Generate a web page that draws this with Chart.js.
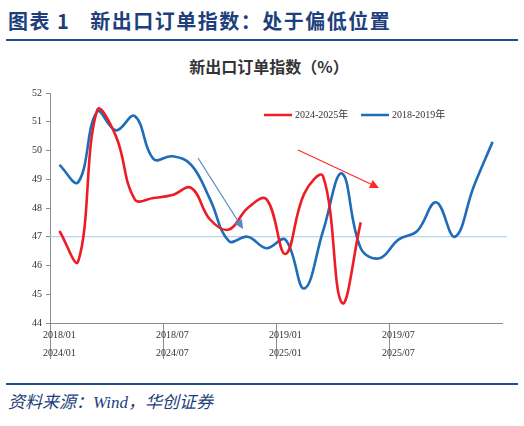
<!DOCTYPE html>
<html>
<head>
<meta charset="utf-8">
<script src="https://cdn.jsdelivr.net/npm/chart.js@4.4.1/dist/chart.umd.min.js"></script>
<style>
  body { margin: 0; width: 524px; height: 426px; background: #fff; position: relative; overflow: hidden; }
  #head { position: absolute; left: 8px; top: 6px; font: bold 20px "Noto Sans CJK SC", sans-serif; color: #1d3f7c; letter-spacing: 1.5px; white-space: nowrap; }
  #head span { margin-right: 20px; }
  .rule { position: absolute; left: 6px; width: 512px; height: 2px; background: #1f4e8f; }
  #title { position: absolute; left: 169px; width: 200px; top: 54px; text-align: center; font: bold 16px "Noto Sans CJK SC", sans-serif; color: #333; }
  #foot { position: absolute; left: 8px; top: 388px; font: italic 17px "Liberation Serif", "Noto Sans CJK SC", serif; color: #1d3f7c; }
  #box { position: absolute; left: 0; top: 45px; width: 524px; height: 325px; }
</style>
</head>
<body>
<div id="head"><span>图表 1</span>新出口订单指数：处于偏低位置</div>
<div class="rule" style="top:39px"></div>
<div id="title">新出口订单指数（%）</div>
<div id="box"><canvas id="chart"></canvas></div>
<div class="rule" style="top:383px"></div>
<div id="foot">资料来源：Wind，华创证券</div>
<script>
// months of 2018-2019, paired with 2024-2025
const months = ["01","02","03","04","05","06","07","08","09","10","11","12"];
const labelsOld = [];
const labelsNew = [];
["2018","2019"].forEach((y) => months.forEach((m) => labelsOld.push(y + "/" + m)));
["2024","2025"].forEach((y) => months.forEach((m) => labelsNew.push(y + "/" + m)));

// new export orders index, %
const old1819 = [49.5, 48.9, 51.35, 50.7, 51.2, 49.7, 49.8, 49.5, 48.3, 46.85, 47.0, 46.6,
                 46.9, 45.2, 47.2, 49.2, 46.6, 46.25, 46.9, 47.2, 48.2, 47.0, 48.75, 50.3];
const new2425 = [47.2, 46.15, 51.4, 50.5, 48.3, 48.35, 48.45, 48.7, 47.6, 47.25, 48.0, 48.3,
                 46.4, 48.5, 49.1, 44.7, 47.5];
const refLine = 47.0;

// arrow annotations in (category index, value)
const arrows = [
  { from: [7.36, 49.74], to: [9.75, 47.27], color: "#5a86c4", width: 1.2 },
  { from: [12.67, 50.02], to: [16.97, 48.7], color: "#ff2a2a", width: 1.2 }
];

const categories = labelsOld.map((l, i) => [l, labelsNew[i]]);

const extras = {
  id: "extras",
  beforeDatasetsDraw(chart) {
    const { ctx, chartArea, scales } = chart;
    const y = scales.y.getPixelForValue(refLine);
    ctx.save();
    ctx.strokeStyle = "#a9c8e6";
    ctx.lineWidth = 1.2;
    ctx.beginPath();
    ctx.moveTo(chartArea.left, y);
    ctx.lineTo(chartArea.right + 5, y);
    ctx.stroke();
    ctx.restore();
  },
  afterDraw(chart) {
    const { ctx, scales, chartArea } = chart;
    ctx.save();
    arrows.forEach((a) => {
      const x1 = scales.x.getPixelForValue(a.from[0]);
      const y1 = scales.y.getPixelForValue(a.from[1]);
      const x2 = scales.x.getPixelForValue(a.to[0]);
      const y2 = scales.y.getPixelForValue(a.to[1]);
      const ang = Math.atan2(y2 - y1, x2 - x1);
      const head = 10;
      ctx.strokeStyle = a.color;
      ctx.fillStyle = a.color;
      ctx.lineWidth = a.width;
      ctx.beginPath();
      ctx.moveTo(x1, y1);
      ctx.lineTo(x2 - head * 0.8 * Math.cos(ang), y2 - head * 0.8 * Math.sin(ang));
      ctx.stroke();
      ctx.beginPath();
      ctx.moveTo(x2, y2);
      ctx.lineTo(x2 - head * Math.cos(ang - 0.45), y2 - head * Math.sin(ang - 0.45));
      ctx.lineTo(x2 - head * Math.cos(ang + 0.45), y2 - head * Math.sin(ang + 0.45));
      ctx.closePath();
      ctx.fill();
    });
    // legend inside plot area
    let lx = chartArea.left + 214;
    const ly = chartArea.top + 22;
    ctx.font = "10px 'Liberation Serif', 'Noto Sans CJK SC', serif";
    ctx.textBaseline = "middle";
    chart.data.datasets.forEach((ds) => {
      ctx.strokeStyle = ds.borderColor;
      ctx.lineWidth = 2.5;
      ctx.beginPath();
      ctx.moveTo(lx, ly);
      ctx.lineTo(lx + 28, ly);
      ctx.stroke();
      ctx.fillStyle = "#333";
      ctx.fillText(ds.label, lx + 31, ly);
      lx += 97;
    });
    ctx.restore();
  }
};

new Chart("chart", {
  type: "line",
  data: {
    labels: categories,
    datasets: [
      { label: "2024-2025年", data: new2425, borderColor: "#ee1c25", borderWidth: 2.6, pointRadius: 0, tension: 0.4, fill: false },
      { label: "2018-2019年", data: old1819, borderColor: "#1f6cb8", borderWidth: 2.6, pointRadius: 0, tension: 0.4, fill: false }
    ]
  },
  options: {
    responsive: true,
    maintainAspectRatio: false,
    animation: false,
    layout: { padding: { left: 0, right: 22, top: 48, bottom: 7 } },
    plugins: {
      legend: { display: false },
      tooltip: { enabled: false },
      title: { display: false }
    },
    scales: {
      x: {
        offset: true,
        afterFit: (s) => { s.height = 40; },
        border: { color: "#8c8c8c", width: 1 },
        grid: {
          offset: true,
          drawOnChartArea: false,
          tickLength: 36,
          color: (c) => (c.index % 6 === 0 ? "#8c8c8c" : "rgba(0,0,0,0)")
        },
        ticks: {
          autoSkip: false,
          maxRotation: 0,
          padding: -33,
          color: "#333",
          font: { family: "'Liberation Serif', serif", size: 10, lineHeight: 1.8 },
          callback: function (v, i) { return i % 6 === 0 ? this.getLabelForValue(v) : ""; }
        }
      },
      y: {
        min: 44,
        max: 52,
        afterFit: (s) => { s.width = 50; },
        border: { color: "#8c8c8c", width: 1 },
        grid: { drawOnChartArea: false, tickLength: 4, color: "#8c8c8c" },
        ticks: {
          stepSize: 1,
          padding: 4,
          color: "#333",
          font: { family: "'Liberation Serif', serif", size: 10 }
        }
      }
    }
  },
  plugins: [extras]
});
</script>
</body>
</html>
